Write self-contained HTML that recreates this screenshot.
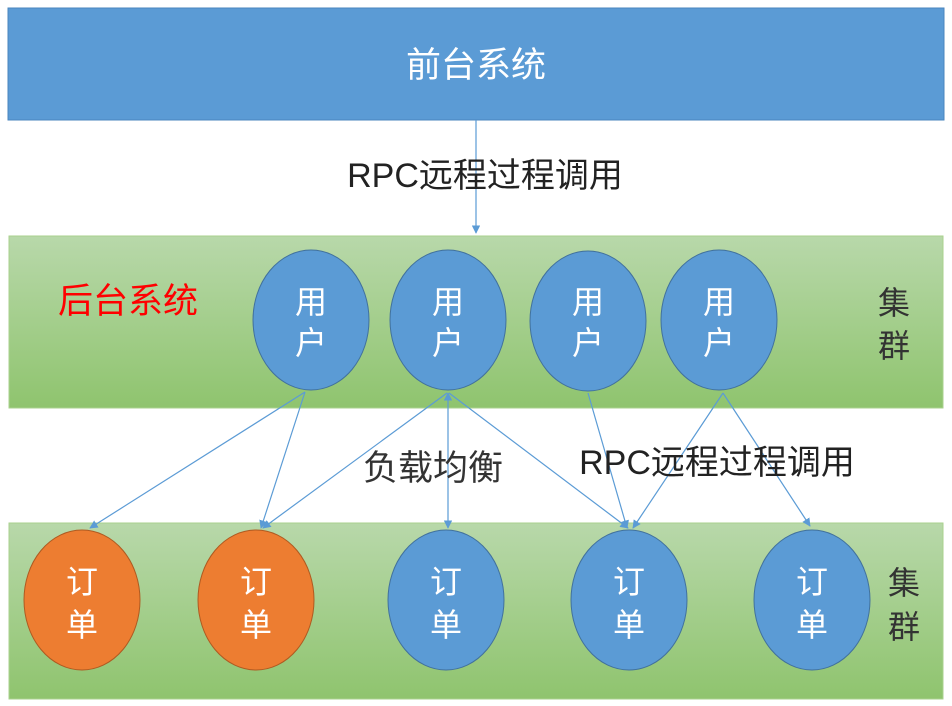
<!DOCTYPE html>
<html><head><meta charset="utf-8"><style>
body{margin:0;width:952px;height:706px;background:#fff;overflow:hidden;font-family:"Liberation Sans","Noto Sans CJK SC",sans-serif}
</style></head><body>
<svg width="952" height="706" viewBox="0 0 952 706" xmlns="http://www.w3.org/2000/svg" style="position:absolute;left:0;top:0">
<defs>
<linearGradient id="g" x1="0" y1="0" x2="0" y2="1">
<stop offset="0" stop-color="#b8d8aa"/><stop offset="1" stop-color="#8fc46e"/>
</linearGradient>
<marker id="a" viewBox="0 0 10 10" refX="9" refY="5" markerWidth="7" markerHeight="7" orient="auto-start-reverse">
<path d="M0,0 L10,5 L0,10 z" fill="#5b9bd5"/></marker>
</defs>
<rect x="8" y="8" width="936" height="112" fill="#5b9bd5" stroke="#4a86be"/>
<text x="476" y="77" font-size="35" fill="#fff" text-anchor="middle" font-family="Noto Sans CJK SC,sans-serif">前台系统</text>
<line x1="476" y1="120" x2="476" y2="233" stroke="#5b9bd5" stroke-width="1.2" marker-end="url(#a)"/>
<text x="485" y="187" font-size="34" fill="#222" text-anchor="middle" font-family="Liberation Sans,Noto Sans CJK SC,sans-serif">RPC远程过程调用</text>
<rect x="9" y="236" width="934" height="172" fill="url(#g)" stroke="#a9d18e"/>
<rect x="9" y="523" width="934" height="176" fill="url(#g)" stroke="#a9d18e"/>
<text x="128" y="313" font-size="35" fill="#ff0000" text-anchor="middle" font-family="Noto Sans CJK SC,sans-serif">后台系统</text>
<g font-size="32" fill="#333" text-anchor="middle" font-family="Noto Sans CJK SC,sans-serif">
<text x="894" y="314">集</text><text x="894" y="357">群</text>
<text x="904" y="594">集</text><text x="904" y="638">群</text>
</g>
<g fill="#5b9bd5" stroke="#41719c" stroke-width="1">
<ellipse cx="311" cy="320" rx="58" ry="70"/>
<ellipse cx="448" cy="320" rx="58" ry="70"/>
<ellipse cx="588" cy="321" rx="58" ry="70"/>
<ellipse cx="719" cy="320" rx="58" ry="70"/>
<ellipse cx="446" cy="600" rx="58" ry="70"/>
<ellipse cx="629" cy="600" rx="58" ry="70"/>
<ellipse cx="812" cy="600" rx="58" ry="70"/>
</g>
<g fill="#ed7d31" stroke="#ae5a21">
<ellipse cx="82" cy="600" rx="58" ry="70"/>
<ellipse cx="256" cy="600" rx="58" ry="70"/>
</g>
<g font-size="32" fill="#fff" text-anchor="middle" font-family="Noto Sans CJK SC,sans-serif">
<text x="311" y="313">用</text><text x="311" y="354">户</text>
<text x="448" y="313">用</text><text x="448" y="354">户</text>
<text x="588" y="313">用</text><text x="588" y="354">户</text>
<text x="719" y="313">用</text><text x="719" y="354">户</text>
<text x="82" y="593">订</text><text x="82" y="636">单</text>
<text x="256" y="593">订</text><text x="256" y="636">单</text>
<text x="446" y="593">订</text><text x="446" y="636">单</text>
<text x="629" y="593">订</text><text x="629" y="636">单</text>
<text x="812" y="593">订</text><text x="812" y="636">单</text>
</g>
<g stroke="#5b9bd5" stroke-width="1.2" fill="none">
<line x1="305" y1="392" x2="90" y2="528" marker-end="url(#a)"/>
<line x1="305" y1="392" x2="261" y2="528" marker-end="url(#a)"/>
<line x1="447" y1="393" x2="263" y2="528" marker-end="url(#a)"/>
<line x1="448" y1="393" x2="448" y2="528" marker-start="url(#a)" marker-end="url(#a)"/>
<line x1="449" y1="393" x2="628" y2="528" marker-end="url(#a)"/>
<line x1="588" y1="393" x2="627" y2="528" marker-end="url(#a)"/>
<line x1="723" y1="393" x2="633" y2="528" marker-end="url(#a)"/>
<line x1="723" y1="393" x2="810" y2="526" marker-end="url(#a)"/>
</g>
<text x="433" y="480" font-size="35" fill="#333" text-anchor="middle" font-family="Noto Sans CJK SC,sans-serif">负载均衡</text>
<text x="717" y="474" font-size="34" fill="#222" text-anchor="middle" font-family="Liberation Sans,Noto Sans CJK SC,sans-serif">RPC远程过程调用</text>
</svg>
</body></html>
